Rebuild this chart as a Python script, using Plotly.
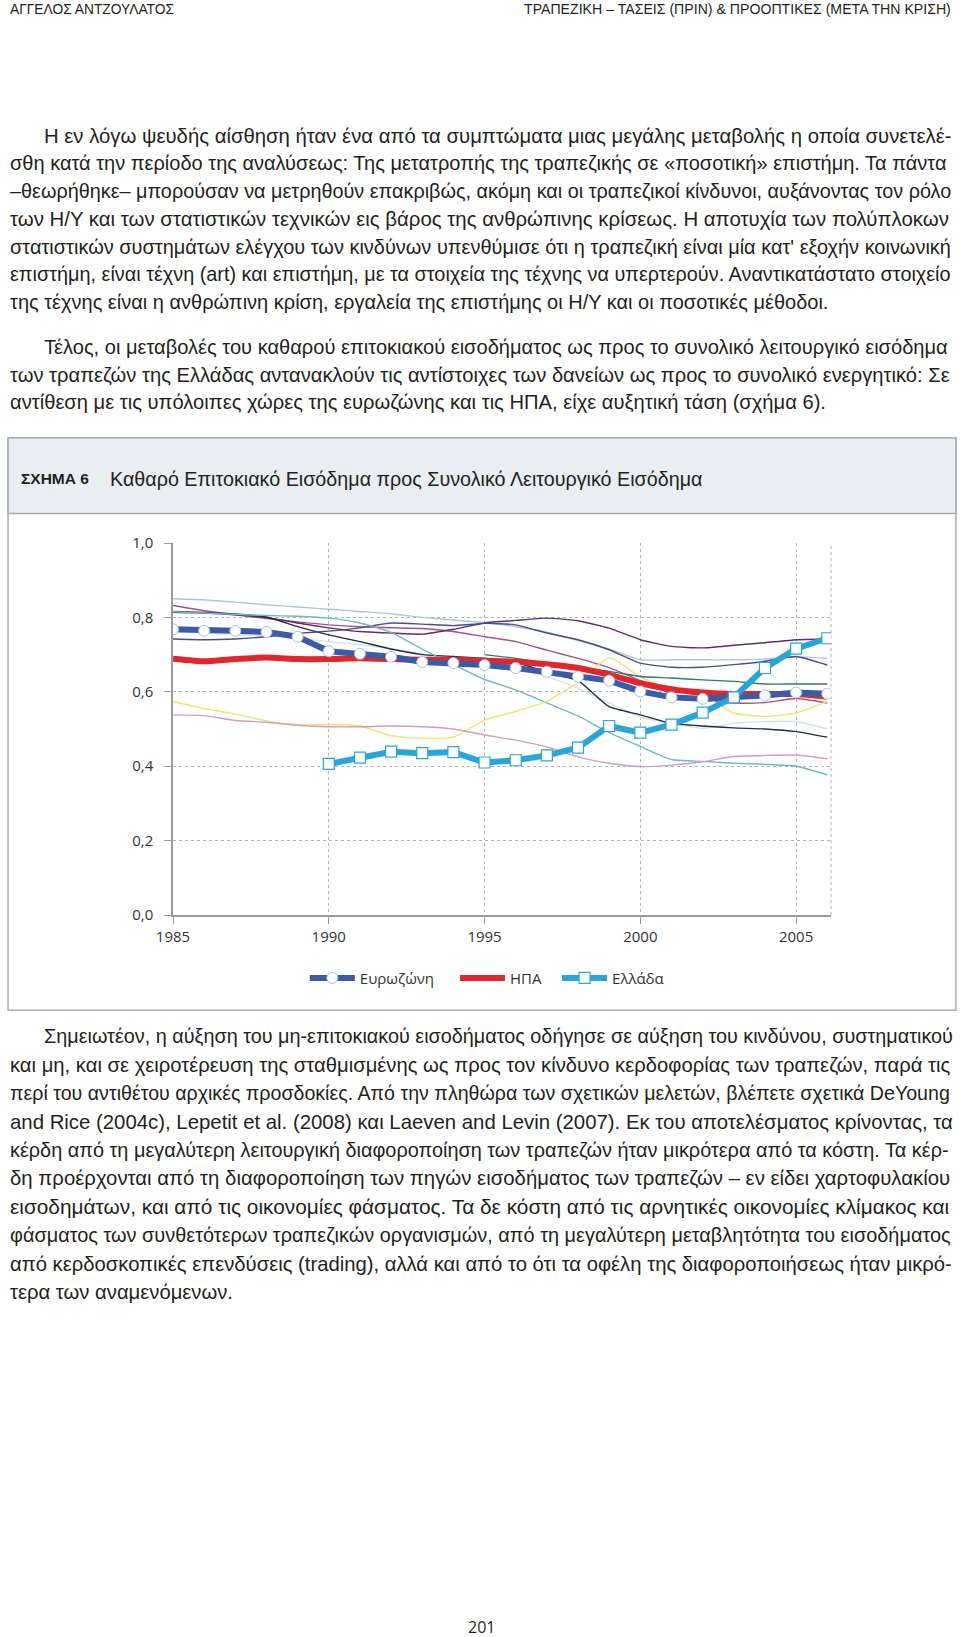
import plotly.graph_objects as go

# ---------------- data ----------------
years = list(range(1985, 2007))

eurozone = [0.768, 0.764, 0.764, 0.761, 0.748, 0.709, 0.702, 0.694, 0.680, 0.677, 0.672,
            0.664, 0.654, 0.641, 0.630, 0.601, 0.585, 0.581, 0.585, 0.590, 0.598, 0.595]
usa = [0.689, 0.682, 0.688, 0.692, 0.688, 0.688, 0.690, 0.688, 0.686, 0.686, 0.683,
       0.681, 0.674, 0.664, 0.646, 0.623, 0.607, 0.598, 0.594, 0.594, 0.594, 0.587]
greece = [None, None, None, None, None, 0.406, 0.423, 0.439, 0.435, 0.438, 0.410,
          0.416, 0.429, 0.450, 0.508, 0.490, 0.512, 0.544, 0.585, 0.664, 0.716, 0.744]

# other euro-area countries (thin lines)
c_lightblue = [0.850, 0.847, 0.841, 0.834, 0.828, 0.822, 0.816, 0.810, 0.800, 0.793, 0.786,
               0.775, 0.760, 0.738, 0.715, 0.686, 0.686, 0.686, 0.686, 0.688, 0.694, 0.690]
c_magenta = [0.832, 0.818, 0.807, 0.797, 0.788, 0.780, 0.775, 0.772, 0.770, 0.762, 0.748,
             0.735, 0.712, 0.690, 0.665, 0.630, 0.595, 0.578, 0.570, 0.571, 0.582, 0.570]
c_darkpurple = [0.814, 0.812, 0.807, 0.800, 0.785, 0.772, 0.762, 0.758, 0.755, 0.768, 0.785,
                0.792, 0.798, 0.791, 0.771, 0.740, 0.722, 0.718, 0.725, 0.732, 0.740, 0.742]
c_navy = [0.816, 0.813, 0.809, 0.801, 0.775, 0.753, 0.735, 0.715, 0.700, 0.695, 0.690,
          0.680, 0.652, 0.630, 0.560, 0.538, 0.515, 0.508, 0.503, 0.500, 0.493, 0.478]
c_bluepurple = [0.742, 0.740, 0.742, 0.748, 0.757, 0.763, 0.772, 0.785, 0.782, 0.778, 0.784,
                0.780, 0.758, 0.740, 0.713, 0.677, 0.666, 0.666, 0.673, 0.682, 0.695, 0.672]
c_teal = [0.815, 0.812, 0.808, 0.805, 0.803, 0.798, 0.785, 0.760, 0.715, 0.673, 0.633,
          0.605, 0.570, 0.535, 0.490, 0.453, 0.418, 0.413, 0.408, 0.405, 0.400, 0.377]
c_yellow = [0.574, 0.555, 0.540, 0.522, 0.512, 0.512, 0.508, 0.482, 0.475, 0.478, 0.524,
            0.547, 0.575, 0.625, 0.692, 0.640, 0.605, 0.590, 0.543, 0.534, 0.543, 0.574]
c_lightcyan = [0.762, 0.758, 0.754, 0.750, 0.744, 0.735, 0.727, 0.715, 0.703, 0.690, 0.678,
               0.665, 0.640, 0.610, 0.570, 0.532, 0.515, 0.502, 0.515, 0.520, 0.520, 0.500]
c_pink = [0.538, 0.536, 0.523, 0.518, 0.510, 0.506, 0.506, 0.508, 0.506, 0.500, 0.484,
          0.470, 0.452, 0.425, 0.408, 0.399, 0.403, 0.412, 0.426, 0.429, 0.430, 0.420]
c_green = [None, None, None, None, None, None, None, None, None, None, 0.700,
           0.690, 0.677, 0.664, 0.655, 0.641, 0.637, 0.632, 0.628, 0.621, 0.621, 0.621]

thin_series = [
    (c_lightblue, "#a9c8de"),
    (c_lightcyan, "#d2e6dc"),
    (c_magenta, "#a5508f"),
    (c_darkpurple, "#5e2e6c"),
    (c_navy, "#262a4c"),
    (c_bluepurple, "#4a4c8c"),
    (c_teal, "#6cbcbc"),
    (c_yellow, "#f2e46a"),
    (c_pink, "#d69ac6"),
    (c_green, "#2f7d62"),
]

y_ticks = [0.0, 0.2, 0.4, 0.6, 0.8, 1.0]
y_ticktext = ["0,0", "0,2", "0,4", "0,6", "0,8", "1,0"]
x_ticks = [1985, 1990, 1995, 2000, 2005]

header_left = "ΑΓΓΕΛΟΣ ΑΝΤΖΟΥΛΑΤΟΣ"
header_right = "ΤΡΑΠΕΖΙΚΗ – ΤΑΣΕΙΣ (ΠΡΙΝ) & ΠΡΟΟΠΤΙΚΕΣ (ΜΕΤΑ ΤΗΝ ΚΡΙΣΗ)"
fig_label = "ΣΧΗΜΑ 6"
fig_title = "Καθαρό Επιτοκιακό Εισόδημα προς Συνολικό Λειτουργικό Εισόδημα"
page_number = "201"

para1 = [
    "Η εν λόγω ψευδής αίσθηση ήταν ένα από τα συμπτώματα μιας μεγάλης μεταβολής η οποία συνετελέ-",
    "σθη κατά την περίοδο της αναλύσεως: Της μετατροπής της τραπεζικής σε «ποσοτική» επιστήμη. Τα πάντα",
    "–θεωρήθηκε– μπορούσαν να μετρηθούν επακριβώς, ακόμη και οι τραπεζικοί κίνδυνοι, αυξάνοντας τον ρόλο",
    "των Η/Υ και των στατιστικών τεχνικών εις βάρος της ανθρώπινης κρίσεως. Η αποτυχία των πολύπλοκων",
    "στατιστικών συστημάτων ελέγχου των κινδύνων υπενθύμισε ότι η τραπεζική είναι μία κατ' εξοχήν κοινωνική",
    "επιστήμη, είναι τέχνη (art) και επιστήμη, με τα στοιχεία της τέχνης να υπερτερούν. Αναντικατάστατο στοιχείο",
    "της τέχνης είναι η ανθρώπινη κρίση, εργαλεία της επιστήμης οι Η/Υ και οι ποσοτικές μέθοδοι.",
]
para2 = [
    "Τέλος, οι μεταβολές του καθαρού επιτοκιακού εισοδήματος ως προς το συνολικό λειτουργικό εισόδημα",
    "των τραπεζών της Ελλάδας αντανακλούν τις αντίστοιχες των δανείων ως προς το συνολικό ενεργητικό: Σε",
    "αντίθεση με τις υπόλοιπες χώρες της ευρωζώνης και τις ΗΠΑ, είχε αυξητική τάση (σχήμα 6).",
]
para3 = [
    "Σημειωτέον, η αύξηση του μη-επιτοκιακού εισοδήματος οδήγησε σε αύξηση του κινδύνου, συστηματικού",
    "και μη, και σε χειροτέρευση της σταθμισμένης ως προς τον κίνδυνο κερδοφορίας των τραπεζών, παρά τις",
    "περί του αντιθέτου αρχικές προσδοκίες. Από την πληθώρα των σχετικών μελετών, βλέπετε σχετικά DeYoung",
    "and Rice (2004c), Lepetit et al. (2008) και Laeven and Levin (2007). Εκ του αποτελέσματος κρίνοντας, τα",
    "κέρδη από τη μεγαλύτερη λειτουργική διαφοροποίηση των τραπεζών ήταν μικρότερα από τα κόστη. Τα κέρ-",
    "δη προέρχονται από τη διαφοροποίηση των πηγών εισοδήματος των τραπεζών – εν είδει χαρτοφυλακίου",
    "εισοδημάτων, και από τις οικονομίες φάσματος. Τα δε κόστη από τις αρνητικές οικονομίες κλίμακος και",
    "φάσματος των συνθετότερων τραπεζικών οργανισμών, από τη μεγαλύτερη μεταβλητότητα του εισοδήματος",
    "από κερδοσκοπικές επενδύσεις (trading), αλλά και από το ότι τα οφέλη της διαφοροποιήσεως ήταν μικρό-",
    "τερα των αναμενόμενων.",
]

# ---------------- text width estimate (Arial / Liberation Sans metrics, per 1000 em) ----
_W = {}
for ch, w in zip("abcdefghijklmnopqrstuvwxyz",
                 [556, 556, 500, 556, 556, 278, 556, 556, 222, 222, 500, 222, 833, 556, 556, 556,
                  556, 333, 500, 278, 556, 500, 722, 500, 500, 500]):
    _W[ch] = w
for ch, w in zip("ABCDEFGHIJKLMNOPQRSTUVWXYZ",
                 [667, 667, 722, 722, 667, 611, 778, 722, 278, 500, 667, 556, 833, 722, 778, 667,
                  778, 722, 667, 611, 722, 667, 944, 667, 667, 611]):
    _W[ch] = w
for ch, w in zip("αβγδεζηθικλμνξοπρσςτυφχψω",
                 [578, 575, 500, 557, 446, 441, 556, 556, 222, 500, 500, 576, 500, 448, 556, 690,
                  569, 618, 491, 395, 547, 648, 525, 713, 781]):
    _W[ch] = w
for ch, base in zip("άέήίόύώϊϋΐΰ", "αεηιουωιυιυ"):
    _W[ch] = _W[base]
for ch, w in zip("ΑΒΓΔΕΖΗΘΙΚΛΜΝΞΟΠΡΣΤΥΦΧΨΩ",
                 [667, 667, 551, 668, 667, 611, 722, 778, 278, 667, 668, 833, 722, 650, 778, 722,
                  667, 618, 611, 667, 797, 667, 835, 748]):
    _W[ch] = w
for ch in "0123456789":
    _W[ch] = 556
_W.update({" ": 278, ".": 278, ",": 278, ":": 278, ";": 278, "-": 333, "–": 556,
           "(": 333, ")": 333, "/": 278, "'": 191, "«": 556, "»": 556, "&": 667})


def text_units(s):
    return sum(_W.get(c, 556) for c in s) / 1000.0


# ---------------- layout geometry ----------------
W, H = 960, 1637
L, R, T, B = 173.3, 129.3, 543.4, 722.1
PW = W - L - R
PH = H - T - B


def xp(px):
    return (px - L) / PW


def yp(py):
    return (H - B - py) / PH


TEXT_FONT = "Liberation Sans, Arial, sans-serif"
CHART_FONT = "Open Sans, Noto Sans, sans-serif"
INK = "#231f20"

fig = go.Figure()

for vals, col in thin_series:
    fig.add_trace(go.Scatter(
        x=years, y=vals, mode="lines", showlegend=False, hoverinfo="skip",
        line=dict(color=col, width=1.4, shape="spline", smoothing=0.5),
        connectgaps=False,
    ))

fig.add_trace(go.Scatter(
    x=years, y=usa, mode="lines", name="ΗΠΑ", legend="legend2",
    line=dict(color="#e3262b", width=6, shape="spline", smoothing=0.4),
))
fig.add_trace(go.Scatter(
    x=years, y=eurozone, mode="lines+markers", name="Ευρωζώνη", legend="legend",
    line=dict(color="#3b5ba6", width=6),
    marker=dict(symbol="circle", size=11, color="white",
                line=dict(color="#a9c3d8", width=1)),
))
fig.add_trace(go.Scatter(
    x=years, y=greece, mode="lines+markers", name="Ελλάδα", legend="legend3",
    line=dict(color="#28a5dc", width=6),
    marker=dict(symbol="square", size=11, color="white",
                line=dict(color="#28a5dc", width=1.2)),
))

shapes = []
# chart frame
shapes.append(dict(type="rect", xref="paper", yref="paper",
                   x0=xp(8.5), x1=xp(955.5), y0=yp(1010), y1=yp(438.5),
                   line=dict(color="#a8adb4", width=1.5), fillcolor="rgba(0,0,0,0)", layer="below"))
shapes.append(dict(type="rect", xref="paper", yref="paper",
                   x0=xp(8.5), x1=xp(955.5), y0=yp(514), y1=yp(438.5),
                   line=dict(color="#a8adb4", width=1.5), fillcolor="#eaedf2", layer="below"))
# right dotted border of the plot
shapes.append(dict(type="line", xref="paper", yref="paper",
                   x0=1, x1=1, y0=0, y1=1,
                   line=dict(color="#b0b0b0", width=1, dash="dot"), layer="below"))

annotations = []


def add_text(text, x, y, size, anchor="left", font=TEXT_FONT, bold=False):
    annotations.append(dict(
        text=("<b>%s</b>" % text) if bold else text, x=xp(x), y=yp(y),
        xref="paper", yref="paper", xanchor=anchor, yanchor="middle",
        showarrow=False, font=dict(family=font, size=size, color=INK)))


def fit_size(text, width, lo=12.0, hi=22.0):
    s = width / text_units(text)
    return max(lo, min(hi, s))


add_text(header_left, 8, 10.5, fit_size(header_left, 168))
add_text(header_right, 953, 10.5, fit_size(header_right, 432), anchor="right")

RIGHT_EDGE = 954.0


def add_para(lines, y0, dy, indent=42.5, left=8.5):
    sizes = []
    for i, line in enumerate(lines[:-1]):
        x0 = indent if i == 0 else left
        sizes.append(fit_size(line, RIGHT_EDGE - x0, 16.5, 21.5))
    base = sorted(sizes)[len(sizes) // 2] if sizes else 19.5
    for i, line in enumerate(lines):
        x0 = indent if i == 0 else left
        size = sizes[i] if i < len(lines) - 1 else base
        add_text(line, x0, y0 + i * dy, size)


add_para(para1, 136.7, 27.65)
add_para(para2, 347.5, 27.65)
add_para(para3, 1036.0, 28.4)

add_text(fig_label, 19, 479, 15.5, bold=True)
add_text(fig_title, 108.5, 479, fit_size(fig_title, 596))
add_text(page_number, 482, 1626, 16, anchor="center", font=CHART_FONT)

legend_common = dict(orientation="h", yanchor="middle", xanchor="left",
                     font=dict(family=CHART_FONT, size=15, color="#333333"),
                     bgcolor="rgba(0,0,0,0)", itemwidth=45, tracegroupgap=0)

fig.update_layout(
    width=W, height=H, autosize=False,
    margin=dict(l=L, r=R, t=T, b=B, pad=0),
    paper_bgcolor="white", plot_bgcolor="white",
    font=dict(family=CHART_FONT, color="#333333", size=15),
    shapes=shapes, annotations=annotations,
    legend=dict(x=xp(305), y=yp(978), **legend_common),
    legend2=dict(x=xp(455), y=yp(978), **legend_common),
    legend3=dict(x=xp(557), y=yp(978), **legend_common),
    xaxis=dict(range=[1985, 2006.12], tickvals=x_ticks, showgrid=True,
               gridcolor="#b5b5b5", griddash="dot", gridwidth=1,
               showline=True, linecolor="#9a9a9a", linewidth=1.5,
               ticks="outside", ticklen=7, tickcolor="#9a9a9a", zeroline=False,
               tickfont=dict(family=CHART_FONT, size=15, color="#333333"), fixedrange=True),
    yaxis=dict(range=[0, 1.0], tickvals=y_ticks, ticktext=y_ticktext, showgrid=True,
               gridcolor="#b5b5b5", griddash="dot", gridwidth=1,
               showline=True, linecolor="#9a9a9a", linewidth=1.5,
               ticks="outside", ticklen=7, tickcolor="#9a9a9a", zeroline=False,
               ticklabelstandoff=8,
               tickfont=dict(family=CHART_FONT, size=15, color="#333333"), fixedrange=True),
)

fig.write_html("out.html", config={"displayModeBar": False},
               post_script="document.body.style.margin='0';document.body.style.overflow='hidden';")
